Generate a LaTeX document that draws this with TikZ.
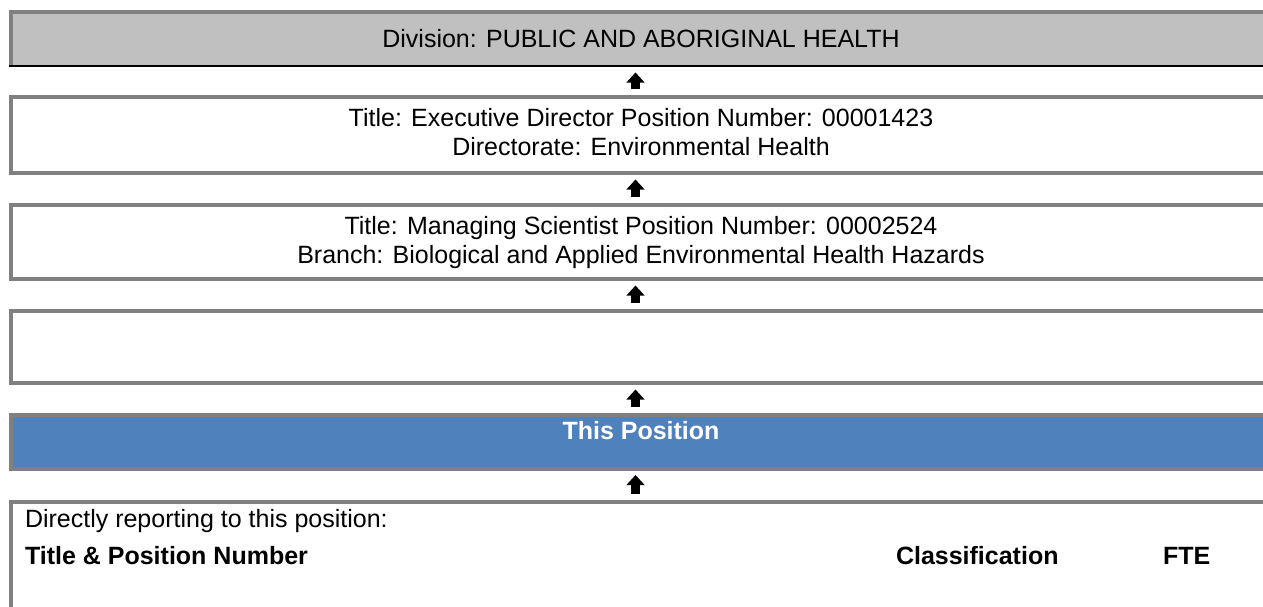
\documentclass[tikz,border=0pt]{standalone}
\usepackage{fontspec}
\setmainfont{Liberation Sans}
\usetikzlibrary{arrows.meta}
\definecolor{boxgray}{HTML}{808080}
\definecolor{divfill}{HTML}{C0C0C0}
\definecolor{posblue}{HTML}{4F81BD}
\begin{document}
\begin{tikzpicture}[x=1pt,y=-1pt,
  orgbox/.style={draw=boxgray, line width=4pt, rectangle, inner sep=0pt, outer sep=0pt, minimum width=1260pt, anchor=north west},
  txt/.style={font=\fontsize{25}{28.75}\selectfont, inner sep=0pt, outer sep=0pt, anchor=base},
  txtl/.style={txt, anchor=base west},
  boldtxt/.style={txtl, font=\fontsize{25}{28.75}\selectfont\bfseries},
  uparrow/.style={line width=9.3pt, -{Triangle[width=17.6pt,length=10pt]}, shorten <=8pt, shorten >=6.5pt}]
\useasboundingbox (0,0) rectangle (1263,606);
\clip (0,0) rectangle (1263,606);
\fill[white] (0,0) rectangle (1263,606);
\coordinate (ax) at (635.5,0);
% Division box
\node[fill=divfill, rectangle, inner sep=0pt, outer sep=0pt, minimum width=1260pt, minimum height=54.5pt, anchor=north west] (div) at (11,11.5) {};
\draw[boxgray, line width=4pt] (div.south west) -- (div.north west) -- (div.north east);
\draw[black, line width=2pt] ([xshift=-2pt]div.south west) -- (div.south east);
\node[txt] (divtxt) at (641,47.5) {Division: PUBLIC AND ABORIGINAL HEALTH};
% Executive director
\node[orgbox, minimum height=76pt] (b2) at (11,97) {};
\node[txt] (b2a) at (641,126.5) {Title: Executive Director Position Number: 00001423};
\node[txt] (b2b) at (641,155.5) {Directorate: Environmental Health};
% Managing scientist
\node[orgbox, minimum height=74pt] (b3) at (11,205) {};
\node[txt] (b3a) at (641,234.5) {Title: Managing Scientist Position Number: 00002524};
\node[txt] (b3b) at (641,263.5) {Branch: Biological and Applied Environmental Health Hazards};
% empty box
\node[orgbox, minimum height=72pt] (b4) at (11,311) {};
% this position
\node[orgbox, fill=posblue, minimum height=53.5pt] (b5) at (11,415) {};
\node[txt, text=white, font=\fontsize{25}{28.75}\selectfont\bfseries] (b5t) at (641,439) {This Position};
% direct reports
\node[orgbox, minimum height=200pt] (b6) at (11,502) {};
\node[txtl] (dr) at (25,527) {Directly reporting to this position:};
\node[boldtxt] (tp) at (25,564) {Title \& Position Number};
\node[boldtxt] (cl) at (896,564) {Classification};
\node[boldtxt] (fte) at (1163,564) {FTE};
% arrows
\draw[uparrow] (b2.north -| ax) -- (div.south -| ax);
\draw[uparrow] (b3.north -| ax) -- (b2.south -| ax);
\draw[uparrow] (b4.north -| ax) -- (b3.south -| ax);
\draw[uparrow] (b5.north -| ax) -- (b4.south -| ax);
\draw[uparrow] (b6.north -| ax) -- (b5.south -| ax);
\end{tikzpicture}
\end{document}
